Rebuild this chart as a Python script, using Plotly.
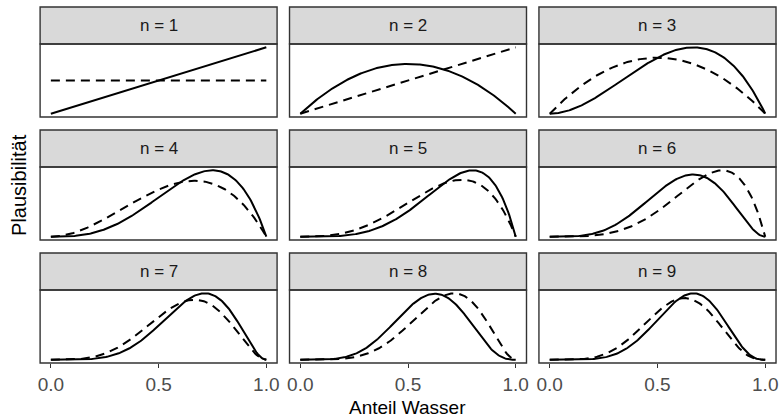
import numpy as np
import plotly.graph_objects as go

# Data: the sequence of globe tosses (W = Wasser, L = Land)
tosses = ["W", "L", "W", "W", "W", "L", "W", "L", "W"]
panel_titles = [f"n = {i}" for i in range(1, 10)]
x_tick_vals = [0.0, 0.5, 1.0]
x_tick_text = ["0.0", "0.5", "1.0"]
p_grid = np.linspace(0, 1, 201)

W = 781
H = 418

def density(w, l):
    d = p_grid ** w * (1 - p_grid) ** l
    return d / np.trapezoid(d, p_grid)

# layout in pixels
col_x = [(38.3, 276.5), (289.0, 527.2), (539.7, 778.0)]
strip_h = 37.0
panel_h = 73.0
row_top = [7.0, 130.0, 253.0]

def px(x):
    return x / W

def py(y):
    return 1 - y / H

fig = go.Figure()
shapes = []
annotations = []
line_col = "#333333"

w_count = 0
l_count = 0
for i in range(9):
    r, c = divmod(i, 3)
    prev = density(w_count, l_count)
    if tosses[i] == "W":
        w_count += 1
    else:
        l_count += 1
    cur = density(w_count, l_count)
    k = i + 1
    xa = "x" if k == 1 else f"x{k}"
    ya = "y" if k == 1 else f"y{k}"
    fig.add_trace(go.Scatter(x=p_grid, y=prev, mode="lines", xaxis=xa, yaxis=ya,
                             line=dict(color="black", width=2, dash="9px,6px"),
                             showlegend=False, hoverinfo="skip"))
    fig.add_trace(go.Scatter(x=p_grid, y=cur, mode="lines", xaxis=xa, yaxis=ya,
                             line=dict(color="black", width=2),
                             showlegend=False, hoverinfo="skip"))
    ymax = max(prev.max(), cur.max())
    x0, x1 = col_x[c]
    st = row_top[r]
    pt = st + strip_h
    pb = pt + panel_h
    xkey = "xaxis" if k == 1 else f"xaxis{k}"
    ykey = "yaxis" if k == 1 else f"yaxis{k}"
    bottom = r == 2
    fig.layout[xkey] = dict(domain=[px(x0), px(x1)], anchor=ya, range=[-0.05, 1.05],
                            tickvals=x_tick_vals, ticktext=x_tick_text,
                            showticklabels=bottom, ticks="outside" if bottom else "",
                            ticklen=4, tickwidth=1.2, tickcolor=line_col,
                            tickfont=dict(size=19, color="#4D4D4D", family="Liberation Sans"),
                            showgrid=False, zeroline=False, showline=False)
    fig.layout[ykey] = dict(domain=[py(pb), py(pt)], anchor=xa,
                            range=[-0.05 * ymax, 1.05 * ymax],
                            showticklabels=False, ticks="", showgrid=False,
                            zeroline=False, showline=False)
    # panel border
    shapes.append(dict(type="rect", xref="paper", yref="paper", x0=px(x0), x1=px(x1),
                       y0=py(pb), y1=py(pt), line=dict(color=line_col, width=1.4),
                       fillcolor="rgba(0,0,0,0)", layer="above"))
    # strip
    shapes.append(dict(type="rect", xref="paper", yref="paper", x0=px(x0), x1=px(x1),
                       y0=py(pt), y1=py(st), line=dict(color=line_col, width=1.4),
                       fillcolor="#D9D9D9", layer="below"))
    annotations.append(dict(text=panel_titles[i], xref="paper", yref="paper",
                            x=px((x0 + x1) / 2), y=py((st + pt) / 2),
                            showarrow=False, xanchor="center", yanchor="middle",
                            font=dict(size=17, color="#1A1A1A", family="Liberation Sans")))

annotations.append(dict(text="Anteil Wasser", xref="paper", yref="paper",
                        x=px(408), y=py(407.5), showarrow=False,
                        xanchor="center", yanchor="middle",
                        font=dict(size=19, color="black", family="Liberation Sans")))
annotations.append(dict(text="Plausibilität", xref="paper", yref="paper",
                        x=px(17), y=py(185), showarrow=False, textangle=-90,
                        xanchor="center", yanchor="middle",
                        font=dict(size=20, color="black", family="Liberation Sans")))

fig.update_layout(width=W, height=H, margin=dict(l=0, r=0, t=0, b=0),
                  paper_bgcolor="white", plot_bgcolor="white",
                  shapes=shapes, annotations=annotations,
                  font=dict(family="Liberation Sans"))
fig.write_html("out.html", config={"displayModeBar": False},
               post_script="document.body.style.margin='0';document.body.style.overflow='hidden';")
